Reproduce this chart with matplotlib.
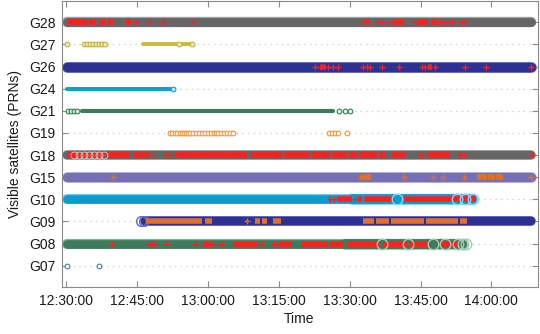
import numpy as np
import matplotlib
matplotlib.use('Agg')
import matplotlib.pyplot as plt
import matplotlib.dates as mdates

plt.rcParams['font.family'] = ['Liberation Sans', 'DejaVu Sans']
plt.rcParams['font.size'] = 10

# all times are minutes after 12:30:00
T0 = np.datetime64('2016-03-15T12:30:00')

prns = ['G07', 'G08', 'G09', 'G10', 'G15', 'G18', 'G19', 'G21', 'G24', 'G26', 'G27', 'G28']

# continuous tracking arcs (start, end)
g28_arcs = [(0.3, 98.3)]
g26_arcs = [(0.3, 98.3)]
g18_arcs = [(0.3, 98.3)]
g15_arcs = [(0.3, 98.3)]
g10_arcs = [(0.3, 85.9)]
g09_arcs = [(16.7, 98.3)]
g08_arcs = [(0.3, 83.8)]
g27_arcs = [(16.3, 23.4), (24.3, 26.4)]
g24_arcs = [(0.2, 22.3)]
g21_arcs = [(3.3, 56.5)]

# isolated epochs
g27_epochs = [0.28, 3.81, 4.44, 5.08, 5.71, 6.35, 6.98, 7.62, 8.15, 23.91, 26.76]
g24_epochs = [22.74]
g21_epochs = [0.49, 1.06, 1.69, 2.39, 57.82, 58.96, 60.09]
g19_epochs = [22.00, 22.53, 23.06, 23.59, 24.12, 24.54, 24.96, 25.39, 25.81, 26.34,
              26.87, 27.50, 28.14, 28.77, 29.41, 30.04, 30.68, 31.31, 31.84, 32.26,
              32.79, 33.43, 34.06, 34.70, 35.33, 55.64, 56.28, 56.91, 57.44, 59.39]
g07_epochs = [0.28, 6.92]

# re-acquisition rings on the thick tracks
g18_rings = [1.69, 2.75, 3.81, 4.87, 5.92, 6.98, 8.04]
g10_rings = [69.97, 82.66, 84.42, 86.17]
g09_rings = [15.87, 16.40]
g08_rings = [66.79, 72.42, 77.71, 80.19, 82.94, 84.06, 84.63]
g10_halo = [(60.5, 85.9)]
g08_halo = [(59.0, 83.8)]

# cycle slips: single epochs and dense runs
g28_slips = [14.81, 17.56, 20.46, 26.81, 62.84, 66.22, 67.07, 68.97, 69.71, 73.84,
             79.02, 79.76, 80.61, 81.67, 83.68, 84.42]
g28_runs = [(0.15, 4.65), (4.97, 5.61), (5.82, 6.35), (7.19, 8.25), (8.89, 9.94),
            (12.80, 13.65), (63.26, 64.32), (70.24, 71.30), (74.26, 76.59), (77.22, 78.49)]
g26_slips = [52.68, 53.74, 55.49, 56.55, 57.61, 62.90, 63.62, 64.32, 66.79, 70.35,
             75.21, 75.95, 77.96, 84.42, 88.86, 98.27]
g26_runs = [(53.95, 55.11), (76.65, 77.37)]
g18_slips = [18.41, 21.26, 22.32, 74.90, 75.53, 83.36, 84.20, 98.49]
g18_runs = [(0.21, 8.46), (8.67, 13.54), (14.39, 17.77), (23.06, 27.61), (28.03, 33.96),
            (34.27, 38.29), (39.14, 45.70), (46.02, 51.62), (52.05, 55.85), (56.28, 59.45),
            (60.09, 61.57), (62.00, 65.80), (66.43, 67.49), (68.97, 71.72), (76.38, 81.24)]
g15_slips = [10.01, 62.20, 71.41, 77.71, 79.76, 84.27, 98.27]
g15_runs = [(62.62, 64.53), (86.96, 89.07), (89.28, 90.77), (90.98, 92.46)]
g10_slips = [55.85, 56.60, 61.14]
g10_runs = [(57.33, 60.51), (61.78, 62.62), (63.05, 69.40), (71.51, 86.74)]
g09_slips = [38.23]
g09_runs = [(16.93, 28.71), (29.41, 30.83), (39.99, 41.04), (41.40, 42.46), (43.86, 45.49),
            (62.84, 65.16), (65.59, 68.34), (68.76, 75.74), (76.17, 82.94), (83.36, 84.84)]
g08_slips = [9.67, 17.77, 18.72, 21.30, 27.29, 31.16, 33.01, 41.57, 44.01, 44.64]
g08_runs = [(29.20, 30.89), (35.33, 40.41), (45.06, 47.81), (49.93, 55.22), (55.85, 58.71),
            (59.35, 66.43), (67.07, 72.15), (72.78, 77.01), (78.49, 83.36)]


def at(minutes):
    ms = np.round(np.asarray(minutes, dtype=float) * 60000).astype(np.int64)
    return T0 + ms.astype('timedelta64[ms]')


row = {p: i + 1 for i, p in enumerate(prns)}

fig = plt.figure(figsize=(5.4, 3.34), dpi=100)
ax = fig.add_axes([61.5 / 540, 1 - 287 / 334, 476 / 540, 286 / 334])

for p in prns:
    ax.axhline(row[p], color='#c8c8c8', lw=0.9, ls=(0, (1, 3.5)), zorder=0)


def track(p, arcs, color, edge=None, width=6.0):
    y = row[p]
    for a, b in arcs:
        if edge is not None:
            ax.plot(at([a, b]), [y, y], color=edge, lw=width + 1.1,
                    solid_capstyle='round', zorder=1)
        ax.plot(at([a, b]), [y, y], color=color, lw=width,
                solid_capstyle='round', zorder=2)


def epochs(p, times, edge, face, size=3.4, mew=0.8, z=3):
    ax.plot(at(times), np.full(len(times), row[p]), 'o', ms=size, mec=edge, mfc=face,
            mew=mew, zorder=z)


def slips(p, marks, runs, color):
    y = row[p]
    for a, b in runs:
        ax.plot(at([a, b]), [y, y], color=color, lw=4.0, solid_capstyle='butt', zorder=5)
    ax.plot(at(marks), np.full(len(marks), y), '+', ms=4.6, mew=1.0, color=color, zorder=5)


red = '#ff1f1f'
orange = '#e0702a'

track('G28', g28_arcs, '#666666', '#a3a3a3', 6.4)
track('G26', g26_arcs, '#2e3192', '#5659b8', 6.6)
track('G18', g18_arcs, '#666666', '#a3a3a3', 6.0)
track('G15', g15_arcs, '#7570b3', '#aeaad8', 6.6)
track('G10', g10_halo, '#0b9bcc', '#8fd6ef', 7.0)
track('G10', g10_arcs, '#0b9bcc', '#6fcbea', 6.2)
track('G09', g09_arcs, '#2e3192', '#6467cc', 6.0)
track('G08', g08_halo, '#3e7a5b', '#a4cdb5', 7.0)
track('G08', g08_arcs, '#3e7a5b', '#7fb396', 6.2)
track('G27', g27_arcs, '#c9bb3c', None, 2.8)
track('G24', g24_arcs, '#0f9fd2', None, 2.9)
track('G21', g21_arcs, '#3e7a5b', None, 3.0)

epochs('G27', g27_epochs, '#c2b43a', '#efe9b8')
epochs('G24', g24_epochs, '#0f9fd2', '#bfe6f5')
epochs('G21', g21_epochs, '#3e7a5b', '#e4efe8')
epochs('G19', g19_epochs, '#ec9a3c', 'white')
epochs('G07', g07_epochs, '#3a80c0', 'white')
epochs('G18', g18_rings, '#d0d0d0', 'none', 5.0, 0.6, 6)
epochs('G10', g10_rings, '#8fd6ef', 'none', 7.6, 1.0, 6)
epochs('G09', g09_rings, '#6467cc', 'none', 7.0, 1.0, 3)
epochs('G08', g08_rings, '#a4cdb5', 'none', 7.6, 1.0, 6)

slips('G28', g28_slips, g28_runs, red)
slips('G26', g26_slips, g26_runs, red)
slips('G18', g18_slips, g18_runs, red)
slips('G15', g15_slips, g15_runs, orange)
slips('G10', g10_slips, g10_runs, red)
slips('G09', g09_slips, g09_runs, orange)
slips('G08', g08_slips, g08_runs, red)

ax.set_xlim(at(-0.95), at(99.75))
ax.set_ylim(0.04, 12.96)
ax.set_yticks(list(row.values()))
ax.set_yticklabels(prns)
ax.xaxis.set_major_locator(mdates.MinuteLocator(byminute=[0, 15, 30, 45]))
ax.xaxis.set_major_formatter(mdates.DateFormatter('%H:%M:%S'))
ax.tick_params(direction='in', length=4, width=0.8, color='#8a8a8a',
               top=True, right=True, labelcolor='#1a1a1a', labelsize=10)
ax.tick_params(axis='y', pad=4.5)
ax.tick_params(axis='x', pad=5)
for s in ax.spines.values():
    s.set_color('#8a8a8a')
    s.set_linewidth(0.8)

ax.set_xlabel('Time', fontsize=10, color='#1a1a1a', labelpad=3)
ax.set_ylabel('Visible satellites (PRNs)', fontsize=10, color='#1a1a1a', labelpad=4.5)

fig.savefig('out.png', dpi=100)
